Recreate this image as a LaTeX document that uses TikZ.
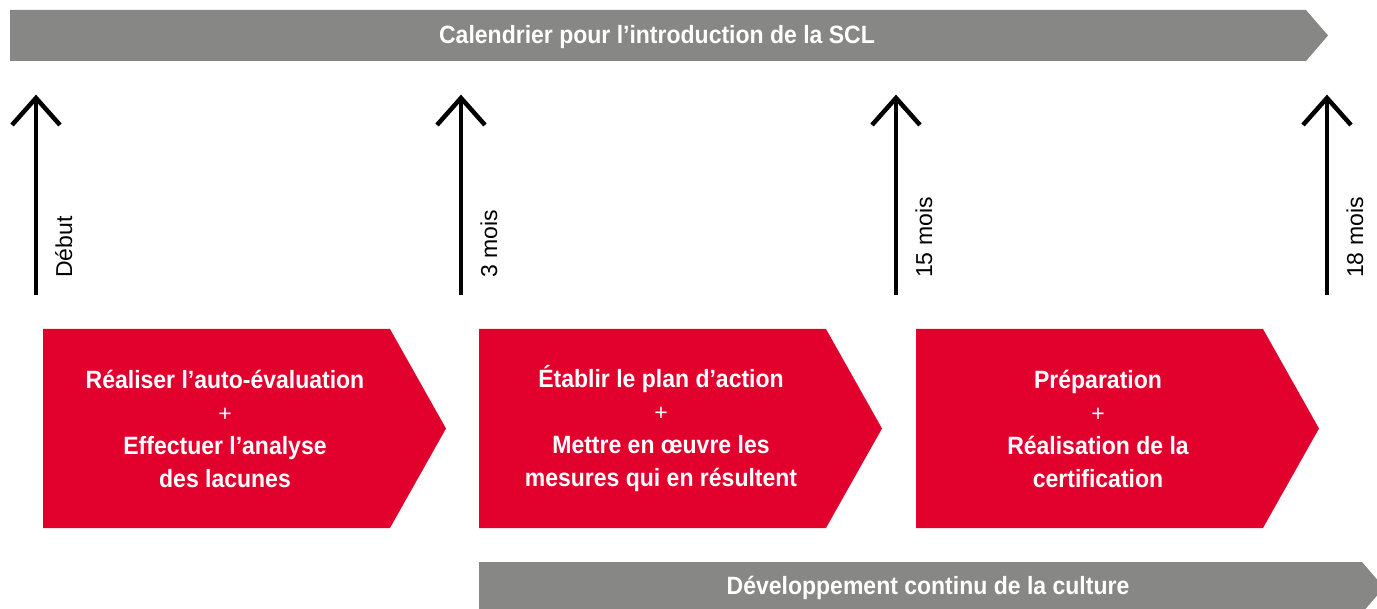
\documentclass[tikz,border=0pt]{standalone}
\usepackage{fontspec}
\setmainfont{Liberation Sans}
\newfontfamily\phasefont[FakeStretch=0.92]{Liberation Sans Bold}
\usetikzlibrary{positioning,calc}
\definecolor{bargray}{RGB}{135,135,133}
\definecolor{phasered}{RGB}{226,0,45}
\newcommand{\plusline}{{\normalfont\fontsize{23}{33}\selectfont +}}
\tikzset{
  pics/chevron/.style={code={
    \fill[phasered] (0,0) -- (347,0) -- (403,99.5) -- (347,199) -- (0,199) -- cycle;}}
}

\begin{document}
\begin{tikzpicture}[x=1pt,y=-1pt,
  bar/.style={fill=bargray},
  bartext/.style={text=white,inner sep=0pt,font=\phasefont\fontsize{25}{30}\selectfont},
  phasetext/.style={text=white,align=center,inner sep=0pt,font=\phasefont\fontsize{25}{33}\selectfont},
  mile/.style={line width=3.5pt},
  head/.style={line width=4.5pt,miter limit=10},
  milelabel/.style={rotate=90,anchor=base west,inner sep=0pt,font=\fontsize{23}{23}\selectfont}]

  \useasboundingbox (0,0) rectangle (1377,609);
  \clip (0,0) rectangle (1377,609);

  % calendar bar
  \fill[bar] (10,10) -- (1306,10) -- (1328,35.5) -- (1306,61) -- (10,61) -- cycle;
  \node[bartext] (cal) at (657,37) {Calendrier pour l’introduction de la SCL};

  % milestones
  \foreach \x/\lab [count=\i] in {36/Début,461/3 mois,896/15 mois,1327/18 mois}{
    \coordinate (top\i) at (\x,98);
    \coordinate (bot\i) at (\x,295);
    \draw[mile] (bot\i) -- (top\i);
    \draw[head] ($(top\i)+(-24,27)$) -- (top\i) -- ($(top\i)+(24,27)$);
    \node[milelabel] (lab\i) at ($(bot\i)+(36,-17)$) {\lab};
  }

  % phases
  \coordinate (ph1) at (43,329);
  \coordinate[right=436pt of ph1] (ph2);
  \coordinate[right=437pt of ph2] (ph3);
  \pic at (ph1) {chevron};
  \pic at (ph2) {chevron};
  \pic at (ph3) {chevron};

  \node[phasetext] (t1) at ($(ph1)+(182,100)$)
    {Réaliser l’auto-évaluation\\\plusline\\Effectuer l’analyse\\des lacunes};
  \node[phasetext] (t2) at ($(ph2)+(182,100)$)
    {Établir le plan d’action\\\plusline\\Mettre en œuvre les\\mesures qui en résultent};
  \node[phasetext] (t3) at ($(ph3)+(182,100)$)
    {Préparation\\\plusline\\Réalisation de la\\certification};

  % culture bar
  \fill[bar] (479,562) -- (1362,562) -- (1384,587.5) -- (1362,613) -- (479,613) -- cycle;
  \node[bartext] (cult) at (928,588) {Développement continu de la culture};
\end{tikzpicture}
\end{document}
